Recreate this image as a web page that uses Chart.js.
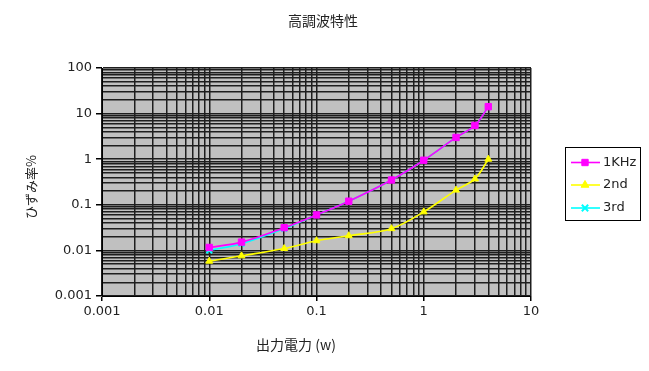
<!DOCTYPE html>
<html><head><meta charset="utf-8">
<script src="https://cdn.jsdelivr.net/npm/chart.js@4/dist/chart.umd.min.js"></script>
<style>html,body{margin:0;padding:0;background:#fff;}#wrap{width:649px;height:371px;}</style>
</head><body><div id="wrap"><canvas id="c"></canvas></div>
<script>
const titleText = '高調波特性';
const xTitle = '出力電力 (w)';
const yTitle = 'ひずみ率%';
const power = [0.01, 0.02, 0.05, 0.1, 0.2, 0.5, 1, 2, 3, 4];
const s1KHz = [0.0116, 0.0152, 0.0315, 0.060, 0.120, 0.35, 0.95, 3.0, 5.5, 14.2];
const s2nd  = [0.0058, 0.0076, 0.011, 0.0163, 0.021, 0.030, 0.070, 0.21, 0.37, 1.0];
const s3rd  = [0.0100, 0.0140, 0.0300, 0.060, 0.120, 0.35, 0.95, 3.0, 5.5, 14.2];
const seriesNames = ['1KHz', '2nd', '3rd'];
const xTickValues = [];
for (let e = -3; e < 1; e++) for (let m = 1; m <= 9; m++) xTickValues.push(+(m * Math.pow(10, e)).toPrecision(6));
xTickValues.push(10);
const yTickValues = [];
for (let e = -3; e < 2; e++) for (let m = 1; m <= 9; m++) yTickValues.push(+(m * Math.pow(10, e)).toPrecision(6));
yTickValues.push(100);

const FONT = '"DejaVu Sans", "Noto Sans CJK JP", sans-serif';
const CJK = '"Noto Sans CJK JP", "DejaVu Sans", sans-serif';
const isDecade = v => Math.abs(Math.log10(v) - Math.round(Math.log10(v))) < 1e-6;
const fmt = v => isDecade(v) ? String(+v.toPrecision(6)) : '';

const colors = ['#FF00FF', '#FFFF00', '#00FFFF'];
const styles = ['rect', 'triangle', 'crossRot'];
const sets = [s1KHz, s2nd, s3rd];

const datasets = sets.map((s, i) => ({
  label: seriesNames[i],
  data: power.map((x, j) => ({x, y: s[j]})),
  borderColor: colors[i],
  backgroundColor: colors[i],
  borderWidth: 1.6,
  pointStyle: styles[i],
  pointRadius: i === 0 ? 4.5 : 4,
  pointBorderWidth: i === 2 ? 2 : 1,
  tension: 0.35,
  order: i === 0 ? 1 : (i === 1 ? 0 : 2)
}));

const deco = {
  id: 'deco',
  beforeDraw(chart) {
    const {ctx, chartArea: a} = chart;
    ctx.save();
    ctx.fillStyle = '#C0C0C0';
    ctx.fillRect(a.left, a.top, a.right - a.left, a.bottom - a.top);
    ctx.restore();
  },
  afterDraw(chart) {
    const ctx = chart.ctx;
    ctx.save();
    ctx.fillStyle = '#222';
    ctx.textAlign = 'center';
    ctx.textBaseline = 'middle';
    ctx.font = '14px ' + CJK;
    ctx.fillText(titleText, 323, 21);
    ctx.font = '14px ' + CJK;
    ctx.fillText(xTitle, 296, 345);
    ctx.translate(31, 187);
    ctx.rotate(-Math.PI / 2);
    ctx.font = '13px ' + CJK;
    ctx.fillText(yTitle, 0, 0);
    ctx.restore();
    // legend
    ctx.save();
    ctx.strokeStyle = '#000';
    ctx.lineWidth = 1;
    ctx.strokeRect(565.5, 147.5, 75, 73);
    const ys = [162.5, 185, 208];
    chart.data.datasets.forEach((d, i) => {
      const y = ys[i];
      ctx.strokeStyle = d.borderColor;
      ctx.lineWidth = 1.6;
      ctx.beginPath(); ctx.moveTo(571, y); ctx.lineTo(600, y); ctx.stroke();
      ctx.fillStyle = d.backgroundColor;
      ctx.strokeStyle = d.borderColor;
      ctx.lineWidth = d.pointBorderWidth;
      Chart.helpers.drawPoint(ctx, {pointStyle: d.pointStyle, radius: 4.5, borderWidth: d.pointBorderWidth, rotation: 0}, 585, y);
      ctx.fillStyle = '#222';
      ctx.font = '13px ' + FONT;
      ctx.textAlign = 'left';
      ctx.textBaseline = 'middle';
      ctx.fillText(d.label, 603, y);
    });
    ctx.restore();
  }
};

new Chart(document.getElementById('c'), {
  type: 'line',
  data: {datasets},
  plugins: [deco],
  options: {
    responsive: true,
    maintainAspectRatio: false,
    animation: false,
    layout: {padding: {top: 68, right: 118, left: 0, bottom: 0}},
    plugins: {legend: {display: false}, title: {display: false}, tooltip: {enabled: false}},
    scales: {
      x: {
        type: 'logarithmic', min: 0.001, max: 10,
        afterBuildTicks: s => { s.ticks = xTickValues.map(v => ({value: v})); },
        afterFit: s => { s.height = 75; },
        ticks: {autoSkip: false, maxRotation: 0, padding: 3, color: '#222', font: {family: FONT, size: 13}, callback: v => fmt(v)},
        grid: {color: '#1e1e1e', lineWidth: 1.5, tickLength: 5,
          tickColor: c => (c.tick && isDecade(c.tick.value)) ? '#000' : 'rgba(0,0,0,0)'},
        border: {color: '#000', width: 1}
      },
      y: {
        type: 'logarithmic', min: 0.001, max: 100,
        afterBuildTicks: s => { s.ticks = yTickValues.map(v => ({value: v})); },
        afterFit: s => { s.width = 102; },
        ticks: {autoSkip: false, padding: 4, color: '#222', font: {family: FONT, size: 13}, callback: v => fmt(v)},
        grid: {color: '#1e1e1e', lineWidth: 1.5, tickLength: 6,
          tickColor: c => (c.tick && isDecade(c.tick.value)) ? '#000' : 'rgba(0,0,0,0)'},
        border: {color: '#000', width: 1}
      }
    }
  }
});
</script></body></html>
